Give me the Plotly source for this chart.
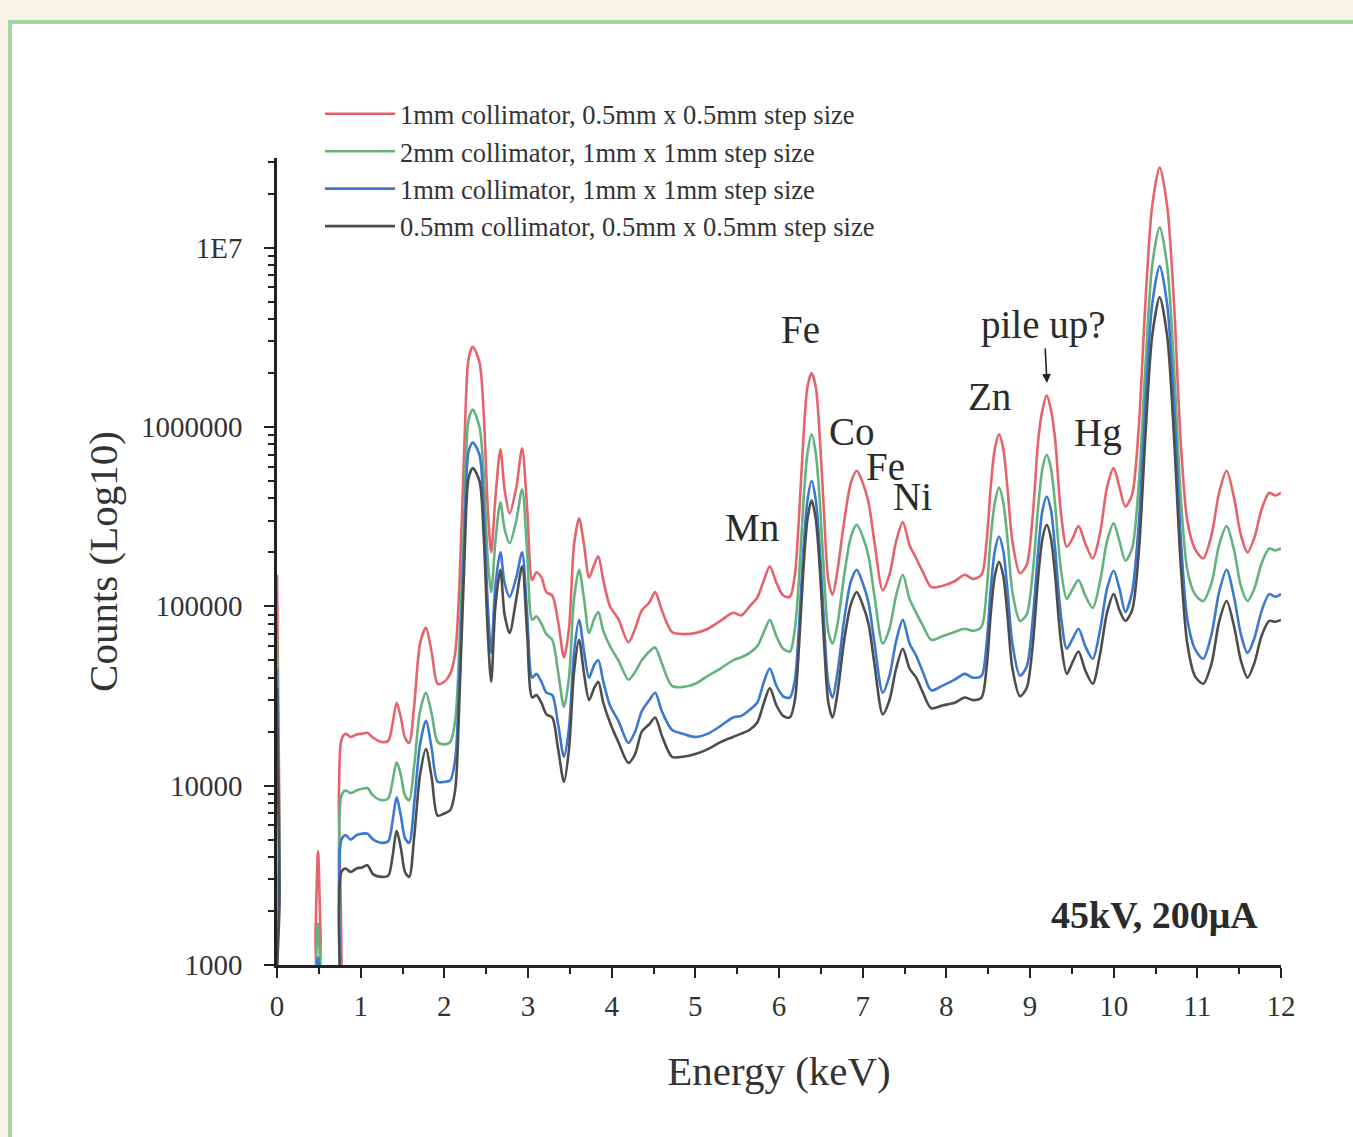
import plotly.graph_objects as go

# ---------------- data ----------------
energy_kev = [
    0.00, 0.03, 0.07, 0.42, 0.46, 0.49, 0.52, 0.56, 0.70, 0.74,
    0.77, 0.82, 0.88, 0.95, 1.02, 1.08, 1.15, 1.25, 1.33, 1.38,
    1.43, 1.48, 1.53, 1.58, 1.64, 1.71, 1.78, 1.85, 1.92, 2.00,
    2.07, 2.13, 2.18, 2.24, 2.29, 2.34, 2.42, 2.47, 2.52, 2.56,
    2.61, 2.67, 2.72, 2.78, 2.86, 2.93, 2.99, 3.05, 3.10, 3.16,
    3.22, 3.29, 3.36, 3.43, 3.49, 3.55, 3.61, 3.67, 3.73, 3.79,
    3.84, 3.90, 3.98, 4.08, 4.20, 4.28, 4.36, 4.45, 4.52, 4.60,
    4.72, 4.85, 5.00, 5.15, 5.30, 5.45, 5.55, 5.65, 5.74, 5.82,
    5.89, 5.97, 6.05, 6.13, 6.19, 6.24, 6.29, 6.34, 6.39, 6.44,
    6.49, 6.54, 6.59, 6.64, 6.70, 6.78, 6.86, 6.93, 7.00, 7.07,
    7.14, 7.24, 7.32, 7.40, 7.48, 7.56, 7.64, 7.72, 7.82, 7.95,
    8.10, 8.22, 8.32, 8.42, 8.48, 8.53, 8.58, 8.63, 8.68, 8.73,
    8.79, 8.88, 8.96, 9.03, 9.10, 9.15, 9.20, 9.25, 9.30, 9.37,
    9.44, 9.51, 9.58, 9.66, 9.75, 9.84, 9.92, 10.00, 10.07, 10.14,
    10.22, 10.30, 10.38, 10.46, 10.55, 10.64, 10.72, 10.80, 10.88, 10.97,
    11.07, 11.17, 11.26, 11.35, 11.44, 11.52, 11.60, 11.68, 11.77, 11.86,
    11.93, 12.00,
]

counts_1mm_05step = [
    150000, 6000, 400, 400, 1500, 4300, 1500, 400, 400, 9000,
    18000, 19500, 18700, 19300, 19500, 19700, 18500, 17500, 17800, 22000,
    29000, 24000, 18500, 17300, 28000, 62000, 76000, 55000, 37000, 38000,
    42000, 55000, 130000, 800000, 2400000, 2800000, 2300000, 1200000, 350000, 200000,
    400000, 750000, 450000, 330000, 460000, 760000, 350000, 140000, 155000, 145000,
    120000, 115000, 82000, 52000, 75000, 220000, 310000, 220000, 145000, 170000,
    190000, 140000, 100000, 85000, 63000, 75000, 95000, 105000, 120000, 95000,
    72000, 70000, 71000, 75000, 83000, 92000, 89000, 100000, 112000, 140000,
    167000, 135000, 115000, 113000, 150000, 320000, 840000, 1670000, 2000000, 1670000,
    840000, 320000, 140000, 116000, 160000, 300000, 490000, 570000, 490000, 380000,
    230000, 123000, 150000, 230000, 295000, 220000, 185000, 155000, 128000, 130000,
    138000, 150000, 142000, 150000, 226000, 460000, 760000, 910000, 760000, 460000,
    230000, 153000, 170000, 310000, 860000, 1250000, 1500000, 1250000, 860000, 330000,
    215000, 240000, 280000, 225000, 185000, 260000, 460000, 590000, 460000, 360000,
    420000, 1000000, 5000000, 17000000, 28000000, 17000000, 5000000, 850000, 300000, 210000,
    185000, 250000, 430000, 570000, 400000, 250000, 200000, 240000, 350000, 430000,
    415000, 430000,
]

counts_2mm_1step = [
    70000, 4000, 400, 400, 900, 1700, 900, 400, 400, 4500,
    8800, 9400, 9100, 9400, 9600, 9700, 8800, 8300, 8500, 10500,
    13500, 11500, 8800, 8300, 13000, 26000, 33000, 25000, 17500, 17000,
    17500, 23000, 60000, 350000, 1100000, 1250000, 1000000, 550000, 180000, 120000,
    230000, 380000, 270000, 225000, 300000, 450000, 200000, 84000, 88000, 80000,
    70000, 65000, 43000, 27500, 40000, 110000, 160000, 110000, 71000, 85000,
    93000, 73000, 60000, 50000, 39000, 43000, 50000, 56000, 59000, 48000,
    36000, 35500, 37000, 41000, 45000, 50000, 52000, 55000, 60000, 72000,
    84000, 68000, 58000, 56000, 75000, 145000, 370000, 710000, 910000, 710000,
    370000, 145000, 72000, 62000, 80000, 150000, 245000, 285000, 245000, 190000,
    115000, 62000, 75000, 115000, 150000, 110000, 92000, 78000, 65000, 68000,
    72000, 75000, 73000, 77000, 120000, 240000, 380000, 460000, 380000, 240000,
    120000, 83000, 90000, 150000, 370000, 590000, 700000, 590000, 370000, 160000,
    110000, 125000, 140000, 115000, 98000, 140000, 230000, 290000, 230000, 180000,
    210000, 480000, 2200000, 7900000, 13000000, 7900000, 2200000, 420000, 160000, 117000,
    107000, 135000, 220000, 280000, 205000, 130000, 107000, 125000, 175000, 210000,
    205000, 210000,
]

counts_1mm_1step = [
    45000, 3000, 400, 400, 700, 1100, 700, 400, 400, 2800,
    5000, 5300, 5000, 5300, 5400, 5400, 5000, 4800, 4900, 6300,
    8600, 6800, 5100, 4800, 8000, 17000, 23000, 16000, 10500, 10500,
    10700, 14000, 40000, 250000, 730000, 820000, 700000, 350000, 100000, 55000,
    130000, 200000, 135000, 113000, 145000, 200000, 90000, 40000, 42000, 38000,
    33000, 32000, 22000, 14500, 21000, 55000, 84000, 56000, 40000, 47000,
    50000, 38000, 28000, 23000, 17300, 20000, 26000, 30000, 33000, 26000,
    20500, 19500, 18700, 19500, 21500, 24000, 24500, 26500, 29000, 38000,
    45000, 36000, 31500, 31000, 39000, 78000, 200000, 390000, 500000, 390000,
    200000, 78000, 37000, 31000, 43000, 85000, 138000, 160000, 135000, 105000,
    63000, 33000, 41000, 64000, 84000, 62000, 53000, 43000, 34000, 36000,
    39000, 42000, 40000, 41000, 61000, 124000, 204000, 245000, 204000, 124000,
    62000, 41000, 46000, 82000, 210000, 345000, 410000, 345000, 210000, 88000,
    58000, 66000, 75000, 60000, 51000, 75000, 125000, 158000, 125000, 93000,
    120000, 290000, 1350000, 4800000, 7900000, 4800000, 1350000, 250000, 85000, 58000,
    51000, 70000, 120000, 160000, 112000, 70000, 55000, 66000, 95000, 117000,
    113000, 117000,
]

counts_05mm_05step = [
    35000, 2500, 400, 400, 600, 900, 600, 400, 400, 2000,
    3300, 3450, 3300, 3450, 3500, 3600, 3200, 3100, 3150, 4000,
    5600, 4500, 3300, 3100, 5200, 11500, 16000, 11000, 6800, 7000,
    7300, 9500, 30000, 180000, 520000, 590000, 500000, 250000, 70000, 38000,
    100000, 160000, 90000, 71000, 110000, 167000, 70000, 31000, 32000, 29000,
    25000, 24000, 16000, 10500, 16000, 43000, 65000, 42000, 30000, 35000,
    38000, 29000, 22500, 17500, 13400, 15000, 20000, 22000, 24000, 19000,
    14500, 14500, 15000, 16000, 17500, 18700, 19500, 20500, 22500, 29000,
    35000, 28000, 24500, 24000, 30000, 61000, 156000, 306000, 390000, 306000,
    156000, 61000, 29000, 24000, 33000, 65000, 103000, 120000, 102000, 80000,
    48000, 25000, 30000, 45000, 58000, 45000, 40000, 33000, 27000, 28000,
    29000, 31000, 30000, 31000, 45000, 90000, 148000, 177000, 148000, 90000,
    45000, 31500, 35000, 59000, 150000, 240000, 285000, 240000, 150000, 63000,
    42000, 49000, 56000, 44000, 37000, 55000, 92000, 117000, 95000, 83000,
    95000, 200000, 900000, 3200000, 5300000, 3200000, 900000, 175000, 62000, 41000,
    37000, 48000, 82000, 107000, 77000, 50000, 40000, 48000, 69000, 83000,
    82000, 84000,
]

series_names = [
    "1mm collimator, 0.5mm x 0.5mm step size",
    "2mm collimator, 1mm x 1mm step size",
    "1mm collimator, 1mm x 1mm step size",
    "0.5mm collimator, 0.5mm x 0.5mm step size",
]
series_colors = ["#e5646c", "#64b27e", "#3b78cf", "#4d4d4d"]

y_tick_values = [1000, 10000, 100000, 1000000, 10000000]
y_tick_labels = ["1000", "10000", "100000", "1000000", "1E7"]
x_tick_values = list(range(0, 13))

# peak labels: (text, energy keV, log10 counts)
peak_labels = ["Pb", "Fe", "Zn", "Co", "Fe", "Ni", "Hg", "Mn"]
peak_label_x = [10.65, 6.26, 8.52, 6.87, 7.27, 7.59, 9.81, 5.68]
peak_label_logy = [7.646, 6.541, 6.168, 5.973, 5.777, 5.610, 5.967, 5.437]

# ---------------- figure ----------------
FONT = "Liberation Serif, Times New Roman, serif"
W, H = 1353, 1137
ML, MR, MT, MB = 277, 72, 158, 172
PW, PH = W - ML - MR, H - MT - MB


def px_to_paper_x(px):
    return (px - ML) / PW


def px_to_paper_y(py):
    return (H - MB - py) / PH


fig = go.Figure()
all_counts = [counts_1mm_05step, counts_2mm_1step, counts_1mm_1step, counts_05mm_05step]
for name, color, ys in zip(series_names, series_colors, all_counts):
    fig.add_trace(go.Scatter(
        x=energy_kev, y=ys, name=name, mode="lines",
        line=dict(color=color, width=2.6, shape="spline", smoothing=0.8),
    ))

minor_vals = [m * 10 ** d for d in range(3, 8) for m in range(2, 10)]

annotations = []
for t, xv, yv in zip(peak_labels, peak_label_x, peak_label_logy):
    annotations.append(dict(x=xv, y=yv, xref="x", yref="y", text=t, showarrow=False,
                            font=dict(family=FONT, size=39, color="#2b2b2b")))
annotations.append(dict(x=9.203, y=6.246, xref="x", yref="y", text="pile up?",
                        showarrow=True, ax=-3, ay=-58, arrowhead=2, arrowsize=1.1,
                        arrowwidth=1.6, arrowcolor="#222222",
                        font=dict(family=FONT, size=39, color="#2b2b2b")))
annotations.append(dict(x=10.49, y=3.279, xref="x", yref="y", text="<b>45kV, 200μA</b>",
                        showarrow=False, font=dict(family=FONT, size=38, color="#2b2b2b")))

fig.update_layout(
    width=W, height=H,
    margin=dict(l=ML, r=MR, t=MT, b=MB, autoexpand=False),
    paper_bgcolor="#f8f4e8",
    plot_bgcolor="rgba(0,0,0,0)",
    font=dict(family=FONT, color="#333333"),
    showlegend=True,
    legend=dict(
        x=px_to_paper_x(320), y=px_to_paper_y(90), xanchor="left", yanchor="top",
        bgcolor="rgba(0,0,0,0)", font=dict(family=FONT, size=26.5, color="#333333"),
        itemwidth=70, tracegroupgap=0,
    ),
    shapes=[dict(
        type="rect", xref="paper", yref="paper", layer="below",
        x0=px_to_paper_x(10), x1=px_to_paper_x(W + 20),
        y0=px_to_paper_y(H + 20), y1=px_to_paper_y(22),
        fillcolor="white", line=dict(color="#a6d6a2", width=4),
    )],
    annotations=annotations,
)

fig.update_xaxes(
    range=[0, 12], tickmode="array", tickvals=x_tick_values,
    showgrid=False, zeroline=False, showline=True, linewidth=2.5, linecolor="#222222",
    ticks="outside", ticklen=10, tickwidth=2, tickcolor="#222222",
    minor=dict(ticks="outside", ticklen=6, tickwidth=2, tickcolor="#222222", dtick=0.5,
               showgrid=False),
    tickfont=dict(family=FONT, size=29, color="#333333"),
    ticklabelstandoff=3,
    title=dict(text="Energy (keV)", font=dict(family=FONT, size=41, color="#333333"),
               standoff=36),
    automargin=False,
)
fig.update_yaxes(
    type="log", range=[3, 7.5], tickmode="array", tickvals=y_tick_values,
    ticktext=y_tick_labels,
    showgrid=False, zeroline=False, showline=True, linewidth=2.5, linecolor="#222222",
    ticks="outside", ticklen=10, tickwidth=2, tickcolor="#222222",
    minor=dict(ticks="outside", ticklen=6, tickwidth=1.5, tickcolor="#222222",
               tickmode="array", tickvals=minor_vals, showgrid=False),
    tickfont=dict(family=FONT, size=29, color="#333333"),
    ticklabelstandoff=16,
    title=dict(text="Counts (Log10)", font=dict(family=FONT, size=41, color="#333333"),
               standoff=11),
    automargin=False,
)

fig.write_html("out.html", config={"displayModeBar": False},
               post_script="document.body.style.margin='0';document.body.style.overflow='hidden';")
